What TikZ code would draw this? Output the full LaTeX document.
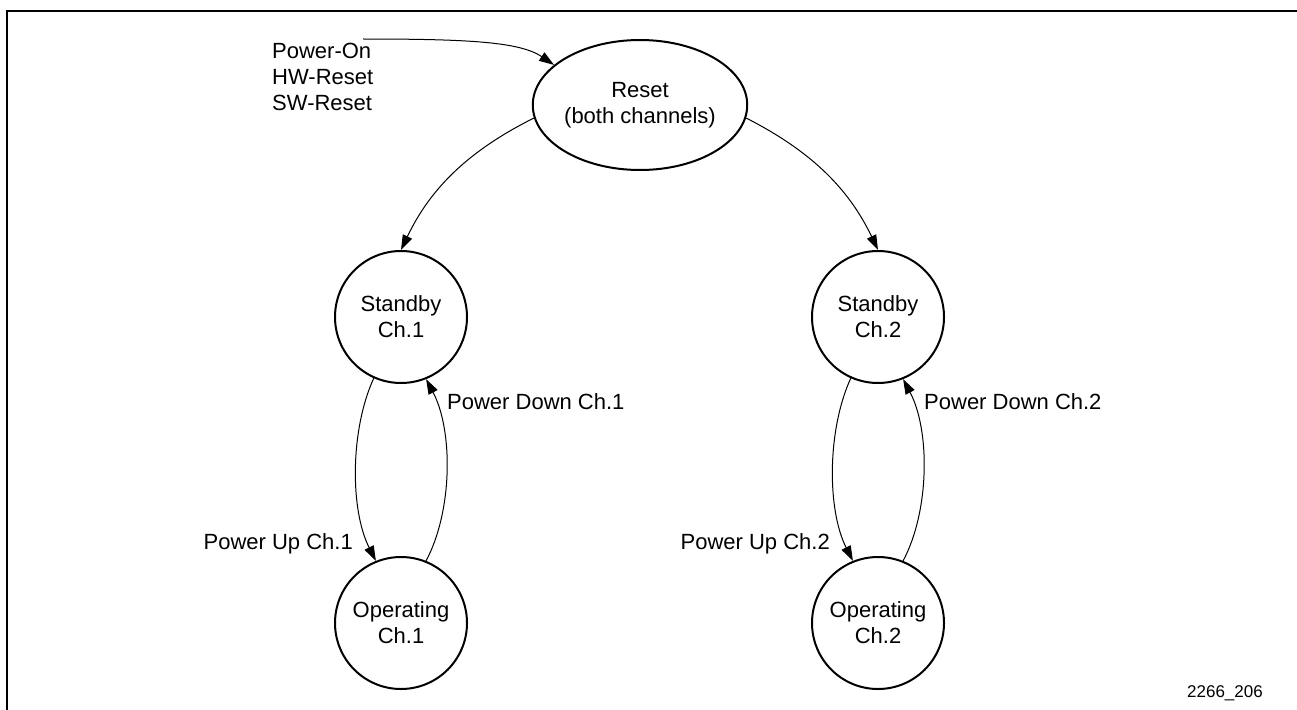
\documentclass[tikz,border=0pt]{standalone}
\usepackage{fontspec}
\setmainfont{Liberation Sans}
\usetikzlibrary{arrows.meta,shapes.geometric}
\begin{document}
\begin{tikzpicture}[x=1pt,y=-1pt,
  txt/.style={font=\fontsize{22}{26}\selectfont},
  state/.style={circle,draw,line width=2pt,minimum size=132pt,inner sep=0pt,align=center,txt},
  resetst/.style={ellipse,draw,line width=2pt,minimum width=212pt,minimum height=130pt,inner sep=0pt,align=center,txt},
  trans/.style={line width=1pt,-{Triangle[length=15pt,width=10pt]}},
  lbl/.style={txt,inner sep=0pt}]
\useasboundingbox (0,0) rectangle (1297,709);
\begin{scope}
  \clip (0,0) rectangle (1297,709);
  \draw[line width=2.5pt] (1400,11) -- (7,11) -- (7,800);
\end{scope}

\node[resetst] (reset) at (640,105) {Reset\\(both channels)};
\node[state] (s1) at (401,317) {Standby\\Ch.1};
\node[state] (o1) at (401,623) {Operating\\Ch.1};
\node[state] (s2) at (878,317) {Standby\\Ch.2};
\node[state] (o2) at (878,623) {Operating\\Ch.2};

\node[lbl,align=left,anchor=north west] (src) at (272,43) {Power-On\\HW-Reset\\SW-Reset};
\coordinate (pwr) at (363,39);
\draw[trans] (pwr) .. controls (470,39) and (520,42) .. (reset.155);

\draw[trans] (reset.187.5) .. controls (470,150) and (431,187) .. (s1.north);
\draw[trans] (reset.-7.5) .. controls (809,150) and (848,187) .. (s2.north);

\draw[trans] (s1.246) .. controls (350,430) and (350,510) .. (o1.112);
\draw[trans] (o1.68) .. controls (453,510) and (453,430) .. (s1.292);
\draw[trans] (s2.246) .. controls (827,430) and (827,510) .. (o2.112);
\draw[trans] (o2.68) .. controls (930,510) and (930,430) .. (s2.292);

\node[lbl,anchor=base west] (pd1) at (447,409) {Power Down Ch.1};
\node[lbl,anchor=base east] (pu1) at (353,549) {Power Up Ch.1};
\node[lbl,anchor=base west] (pd2) at (924,409) {Power Down Ch.2};
\node[lbl,anchor=base east] (pu2) at (830,549) {Power Up Ch.2};

\node[inner sep=0pt,anchor=base east,font=\fontsize{17}{20}\selectfont] (fig) at (1263,697) {2266\_206};
\end{tikzpicture}
\end{document}
